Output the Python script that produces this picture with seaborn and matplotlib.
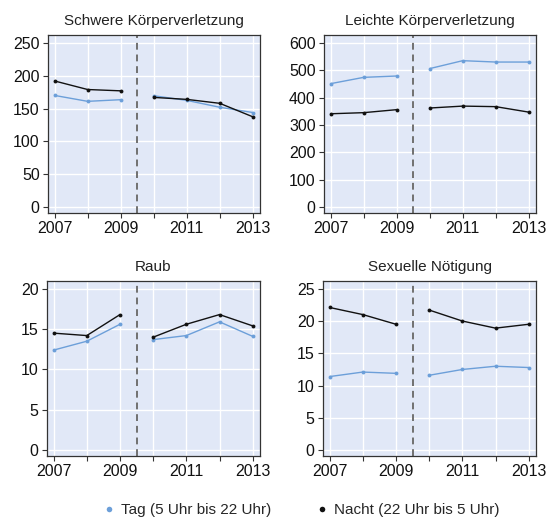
import numpy as np
import pandas as pd
import seaborn as sns
import matplotlib.pyplot as plt
from matplotlib.lines import Line2D

years = [2007, 2008, 2009, 2010, 2011, 2012, 2013]
titles = ["Schwere Körperverletzung", "Leichte Körperverletzung", "Raub", "Sexuelle Nötigung"]

tag_schwer = [170, 161, 163.5, 169.5, 162.5, 152, 144]
nacht_schwer = [192, 179, 177, 167, 164, 158, 137.5]
tag_leicht = [451, 474, 479, 506, 535, 530, 530]
nacht_leicht = [341, 345, 356, 362, 369, 367, 347]
tag_raub = [12.4, 13.5, 15.6, 13.7, 14.2, 15.9, 14.1]
nacht_raub = [14.5, 14.2, 16.8, 14.0, 15.6, 16.8, 15.4]
tag_sex = [11.4, 12.1, 11.9, 11.6, 12.5, 13.0, 12.8]
nacht_sex = [22.1, 21.0, 19.5, 21.7, 20.0, 18.9, 19.5]

y_ticks = [[0, 50, 100, 150, 200, 250], [0, 100, 200, 300, 400, 500, 600],
           [0, 5, 10, 15, 20], [0, 5, 10, 15, 20, 25]]
labels = ["Tag (5 Uhr bis 22 Uhr)", "Nacht (22 Uhr bis 5 Uhr)"]

tag_col = "#6c9fd9"
nacht_col = "#111111"
bg = "#e1e8f7"

sns.set_theme(style="darkgrid")
plt.rcParams['font.family'] = ['Liberation Sans', 'DejaVu Sans']

series = [(tag_schwer, nacht_schwer), (tag_leicht, nacht_leicht),
          (tag_raub, nacht_raub), (tag_sex, nacht_sex)]

fig = plt.figure(figsize=(5.51, 5.2), dpi=100)
W, H = 551, 520
boxes = [(48, 35, 260, 213), (324, 35, 536, 213),
         (47, 281, 260, 456), (323, 281, 536, 456)]

for i, (tag, nacht) in enumerate(series):
    l, t, r, b = boxes[i]
    ax = fig.add_axes([l / W, 1 - b / H, (r - l) / W, (b - t) / H])
    ax.set_facecolor(bg)
    rows = []
    for name, vals in zip(labels, [tag, nacht]):
        for y, v in zip(years, vals):
            rows.append({"Jahr": y, "Wert": v, "Serie": name,
                         "Periode": 0 if y <= 2009 else 1})
    df = pd.DataFrame(rows)
    sns.lineplot(data=df, x="Jahr", y="Wert", hue="Serie", units="Periode",
                 estimator=None, palette=[tag_col, nacht_col], marker="o",
                 markersize=2.8, markeredgewidth=0, linewidth=1.0,
                 legend=False, ax=ax)
    ax.axvline(2009.5, color="#707070", linestyle=(0, (3.5, 2.5)), linewidth=1.4)
    yt = y_ticks[i]
    span = yt[-1] - yt[0]
    ax.set_ylim(-0.036 * span, yt[-1] + 0.048 * span)
    ax.set_xlim(2006.8, 2013.22)
    ax.set_yticks(yt)
    ax.set_xticks(years)
    ax.set_xticklabels([str(y) if y % 2 == 1 else "" for y in years])
    ax.grid(True, color="white", linewidth=1.0)
    ax.set_xlabel("")
    ax.set_ylabel("")
    ax.set_title(titles[i], fontsize=11, color="#222222", pad=7)
    for s in ax.spines.values():
        s.set_visible(True)
        s.set_color("#333333")
        s.set_linewidth(0.9)
    ax.tick_params(axis="both", which="both", length=3.5, width=0.8, color="#333333",
                   labelsize=11.5, labelcolor="#111111", pad=2.5, bottom=True, left=True)

handles = [Line2D([], [], marker="o", linestyle="", color=c, markersize=4, markeredgewidth=0)
           for c in [tag_col, nacht_col]]
fig.legend(handles, labels, loc="center", bbox_to_anchor=(0.545, 1 - 510 / H), ncol=2,
           frameon=False, fontsize=11, handletextpad=0.3, columnspacing=2.8,
           handlelength=1.0)

fig.savefig("out.png", dpi=100, facecolor="white")
